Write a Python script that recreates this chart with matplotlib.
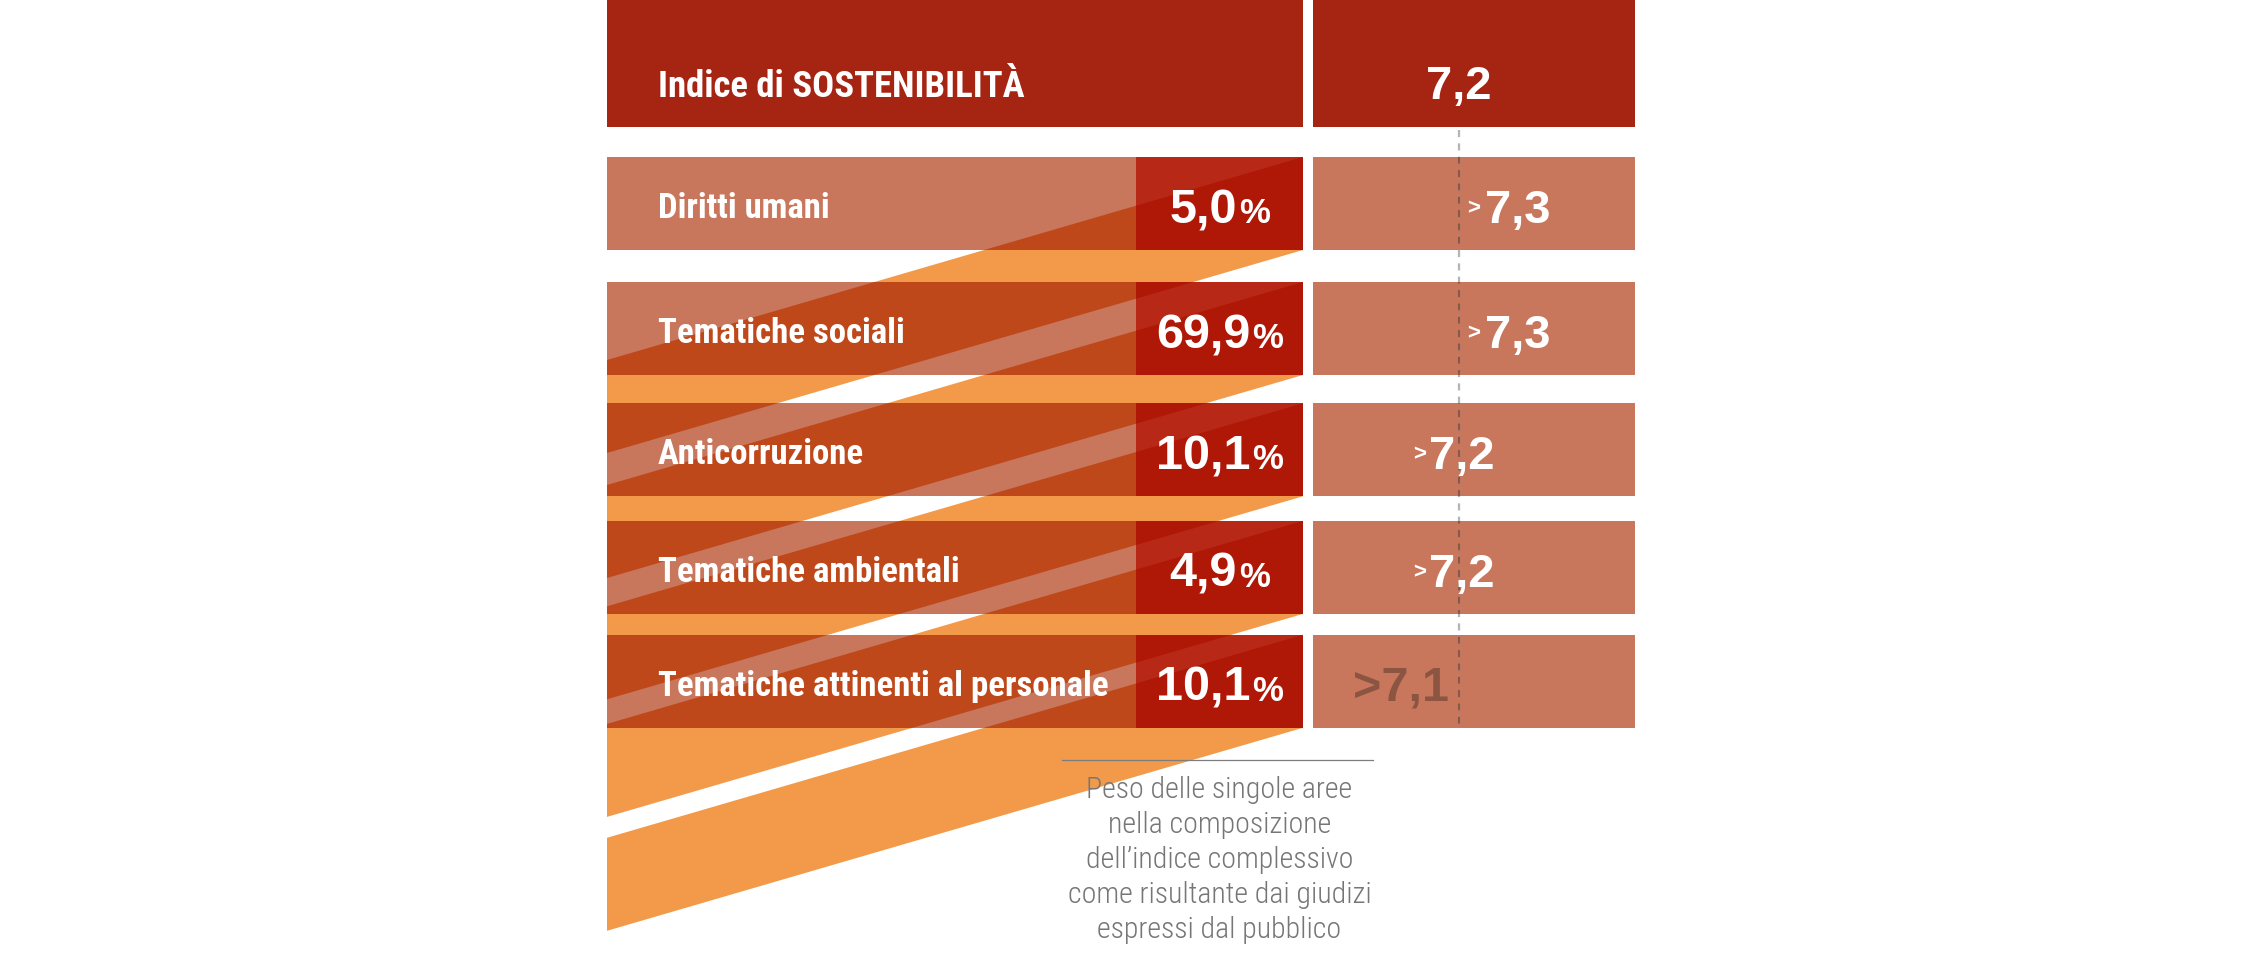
import numpy as np
import matplotlib
matplotlib.use("Agg")
import matplotlib.pyplot as plt
from matplotlib import font_manager
from matplotlib.colors import to_rgb
from matplotlib.patches import Rectangle, Polygon

# dati del grafico
categorie = ["Diritti umani", "Tematiche sociali", "Anticorruzione",
             "Tematiche ambientali", "Tematiche attinenti al personale"]
pesi = [5.0, 69.9, 10.1, 4.9, 10.1]      # peso % nell'indice
voti = [7.3, 7.3, 7.2, 7.2, 7.1]         # voto per area
indice = 7.2
titolo = "Indice di SOSTENIBILITÀ"
didascalia = ["Peso delle singole aree", "nella composizione",
              "dell\u2019indice complessivo", "come risultante dai giudizi",
              "espressi dal pubblico"]

# font
nomi = {f.name for f in font_manager.fontManager.ttflist}
stretto = next((f for f in ["Liberation Sans Narrow", "Roboto Condensed", "Liberation Sans"]
                if f in nomi), "DejaVu Sans")
largo = "Liberation Sans" if "Liberation Sans" in nomi else "DejaVu Sans"

# colori
arancio = "#F39A4A"
salmone = "#C8775C"
rosso_q = "#B82816"
rosso_testa = "#A52412"
grigio_linea = "#B5B5B5"
tratto_box = "#8A5848"
marrone = "#8B5542"
grigio_testo = "#767676"


def molt(c1, c2):
    # simula il blend "multiply"
    return tuple(np.array(to_rgb(c1)) * np.array(to_rgb(c2)))


def fmt(v):
    return f"{v:.1f}".replace(".", ",")


# layout (pixel)
W, Hf = 2243, 980
X0, X1 = 607, 1303        # riquadri di sinistra
XQ = 1136                 # inizio quadrato delle percentuali
XR0, XR1 = 1313, 1635     # riquadri di destra
XL = 1459                 # linea tratteggiata (valore indice)
TESTA = 127
TOP0, PASSO, CALO, H = 157, 125, 3.7, 93
SLANT = 203

fig = plt.figure(figsize=(W / 100, Hf / 100), dpi=100)
ax = fig.add_axes([0, 0, 1, 1])
ax.set_xlim(0, W)
ax.set_ylim(Hf, 0)
ax.axis("off")
r = fig.canvas.get_renderer()

n = len(categorie)
# le righe si avvicinano leggermente scendendo
tops = [TOP0 + i * PASSO - CALO * i * (i - 1) / 2 for i in range(n)]

# fasce arancioni diagonali
def fascia(t):
    return [(X0, t + SLANT), (X1, t), (X1, t + H), (X0, t + H + SLANT)]

for t in tops:
    ax.add_patch(Polygon(fascia(t), closed=True, color=arancio, lw=0, zorder=1))

# testata
ax.add_patch(Rectangle((X0, 0), X1 - X0, TESTA, color=rosso_testa, lw=0, zorder=2))
ax.add_patch(Rectangle((XR0, 0), XR1 - XR0, TESTA, color=rosso_testa, lw=0, zorder=2))
ax.text(X0 + 51, 97, titolo, fontsize=26.5, fontweight="bold", family=stretto,
        color="white", va="baseline", ha="left", zorder=10)
ax.text(XL, 99, fmt(indice), fontsize=34, fontweight="bold", family=largo,
        color="white", va="baseline", ha="center", zorder=10)

# righe
for i, t in enumerate(tops):
    box = Rectangle((X0, t), X1 - X0, H, color=salmone, lw=0, zorder=2)
    ax.add_patch(box)
    for tt in tops:
        p = Polygon(fascia(tt), closed=True, color=molt(salmone, arancio), lw=0, zorder=3)
        ax.add_patch(p)
        p.set_clip_path(box)
    sq = Rectangle((XQ, t), X1 - XQ, H, color=rosso_q, lw=0, zorder=4)
    ax.add_patch(sq)
    for tt in tops:
        p = Polygon(fascia(tt), closed=True, color=molt(rosso_q, arancio), lw=0, zorder=5)
        ax.add_patch(p)
        p.set_clip_path(sq)

    ax.text(X0 + 51, t + H / 2 + 14.5, categorie[i], fontsize=25, fontweight="bold",
            family=stretto, color="white", va="baseline", ha="left", zorder=10)

    # percentuale centrata nel quadrato
    yb = t + H / 2 + 19.5
    t1 = ax.text(0, yb, fmt(pesi[i]), fontsize=35, fontweight="bold", family=largo,
                 color="white", va="baseline", ha="left", zorder=10)
    t2 = ax.text(0, yb, "%", fontsize=25, fontweight="bold", family=largo,
                 color="white", va="baseline", ha="left", zorder=10)
    w1 = t1.get_window_extent(r).width
    w2 = t2.get_window_extent(r).width
    xs = (XQ + X1) / 2 - (w1 + w2 + 2) / 2
    t1.set_x(xs)
    t2.set_x(xs + w1 + 2)

    # riquadro destro con voto
    rb = Rectangle((XR0, t), XR1 - XR0, H, color=salmone, lw=0, zorder=2)
    ax.add_patch(rb)
    ln, = ax.plot([XL, XL], [TESTA + 3, tops[-1] + H], color=tratto_box,
                  lw=1.6, ls=(0, (3.2, 2.8)), zorder=7)
    ln.set_clip_path(rb)

    v = voti[i]
    if v > indice:
        ax.text(XL + 26, yb, fmt(v), fontsize=34, fontweight="bold", family=largo,
                color="white", va="baseline", ha="left", zorder=10)
        ax.text(XL + 8, yb - 8.5, ">", fontsize=16, fontweight="bold", family=largo,
                color="white", va="baseline", ha="left", zorder=10)
    elif v == indice:
        tv = ax.text(XL + 3, yb, fmt(v), fontsize=34, fontweight="bold", family=largo,
                     color="white", va="baseline", ha="center", zorder=10)
        wv = tv.get_window_extent(r).width
        ax.text(XL + 3 - wv / 2 - 3, yb - 8.5, ">", fontsize=16, fontweight="bold",
                family=largo, color="white", va="baseline", ha="right", zorder=10)
    else:
        ax.text(XL - 10, yb, ">" + fmt(v), fontsize=35, fontweight="bold", family=largo,
                color=marrone, va="baseline", ha="right", zorder=10)

# linea tratteggiata dell'indice
ax.plot([XL, XL], [TESTA + 3, tops[-1] + H], color=grigio_linea, lw=1.6,
        ls=(0, (3.2, 2.8)), zorder=6)

# didascalia
xc = (XQ + X1) / 2
ax.plot([1062, 1373], [760, 760], color="#7d7d7d", lw=0.9, zorder=6)
for k, riga in enumerate(didascalia):
    ax.text(xc, 798 + 35 * k, riga, fontsize=21.5, fontweight="light", family=stretto,
            color=grigio_testo, va="baseline", ha="center", zorder=10)

fig.savefig("out.png", dpi=100)
